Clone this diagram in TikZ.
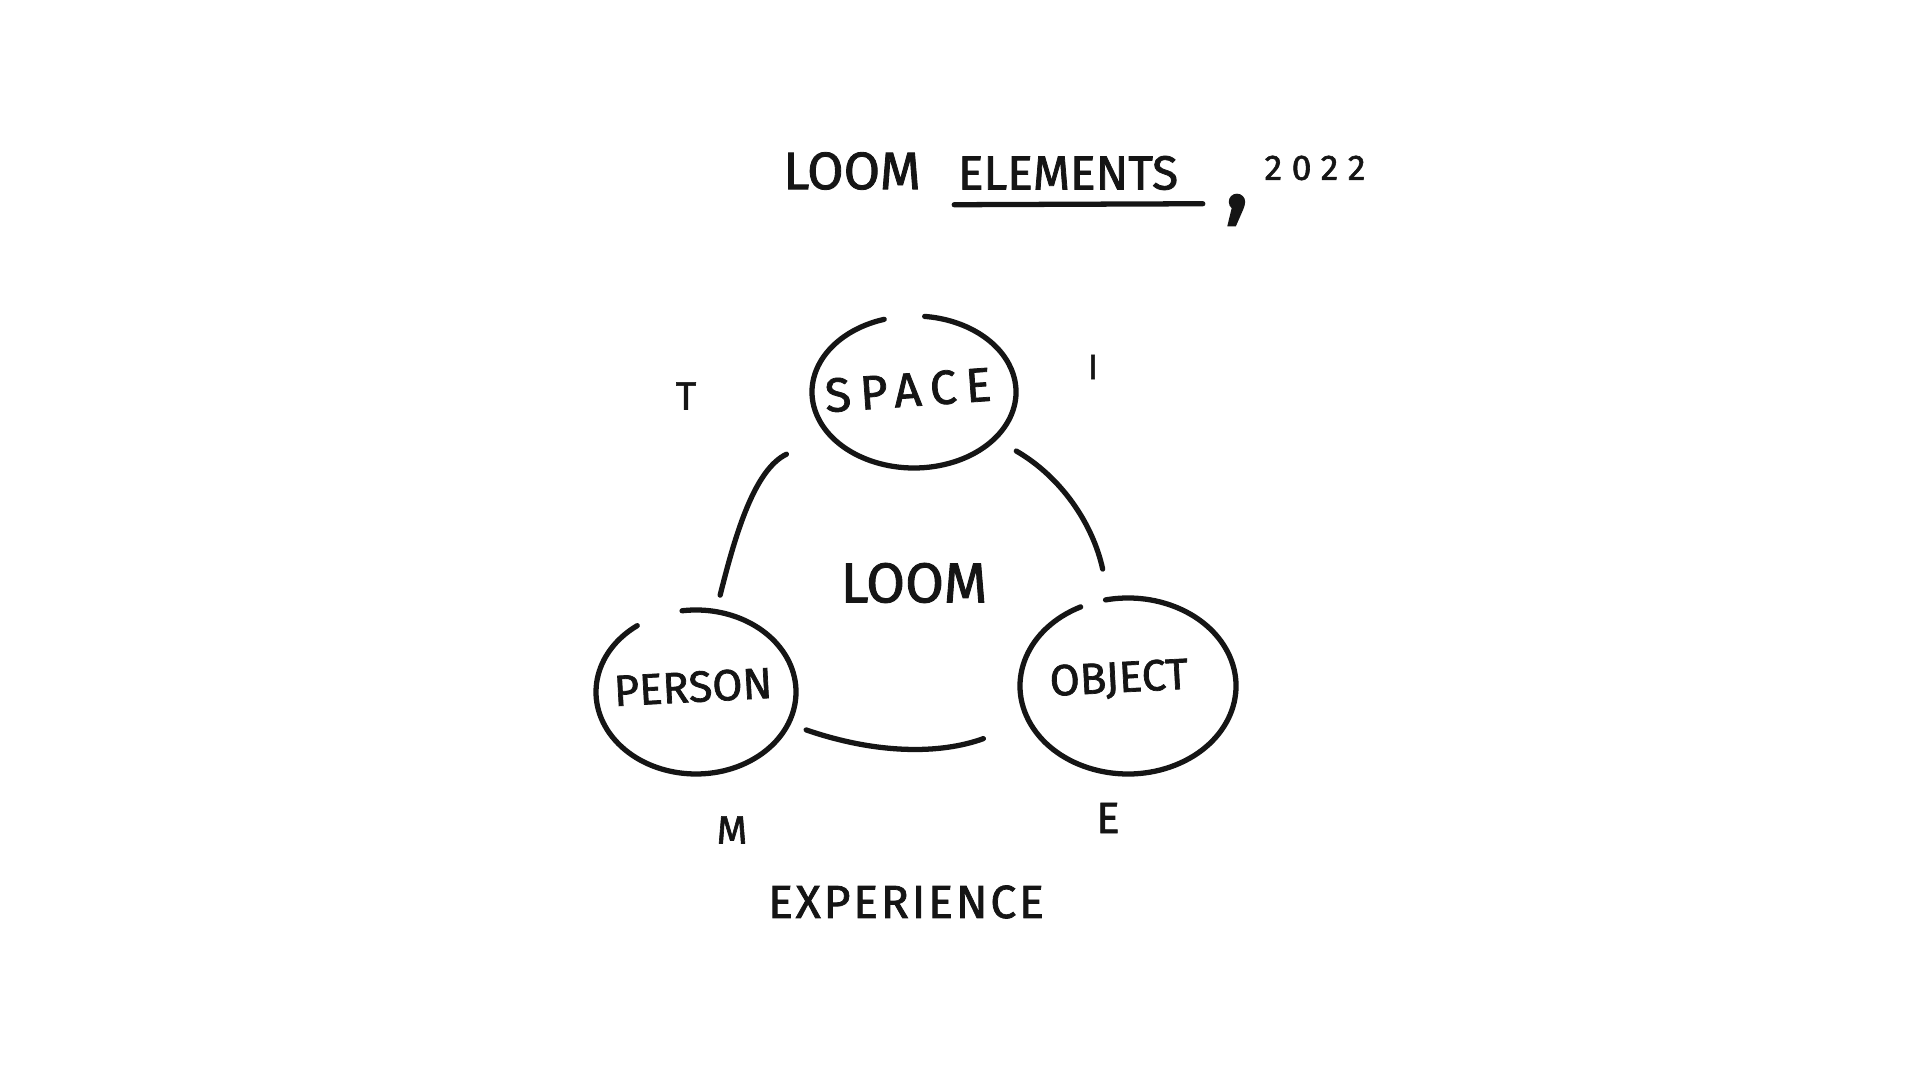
\documentclass[tikz,border=0pt]{standalone}
\usepackage{fontspec}
\usetikzlibrary{shapes.geometric}
\newfontfamily\handfont[FakeBold=1.6]{Fira Sans}
\definecolor{inkblack}{HTML}{151515}
\tikzset{
	ink/.style={draw=inkblack, line width=1.5pt, line cap=round},
	word/.style={text=inkblack, inner sep=0pt},
	blob/.style={ellipse, inner sep=0pt, outer sep=0pt}
}
\begin{document}
\begin{tikzpicture}
	\useasboundingbox (0, 0) rectangle (19.2, 10.8);
	% title
	\node[word, font=\handfont\fontsize{15}{18}\selectfont] (loomtitle) at (8.52, 9.09) {LOOM};
	\node[word, font=\handfont\fontsize{13.6}{16}\selectfont] (elements) at (10.68, 9.07) {ELEMENTS};
	\draw[ink] ([shift={(-0.03, -0.14)}]elements.south west) -- ([shift={(0.24, -0.13)}]elements.south east);
	\node[word, font=\handfont\fontsize{30}{30}\selectfont] (comma) at (12.37, 8.70) {,};
	\node[word, font=\handfont\addfontfeature{LetterSpace=27}\fontsize{10.1}{12}\selectfont] (year) at (13.15, 9.12) {2022};
	% the three elements
	\node[blob, minimum width=2.04cm, minimum height=1.52cm] (space) at (9.14, 6.88) {};
	\node[blob, minimum width=2.00cm, minimum height=1.64cm] (person) at (6.96, 3.88) {};
	\node[blob, minimum width=2.16cm, minimum height=1.76cm] (object) at (11.28, 3.94) {};
	\draw[ink] (space.center) ++(107:1.02 and 0.76) arc[start angle=107, end angle=444, x radius=1.02, y radius=0.76];
	\draw[ink] (person.center) ++(126:1.00 and 0.82) arc[start angle=126, end angle=458, x radius=1.00, y radius=0.82];
	\draw[ink] (object.center) ++(116:1.08 and 0.88) arc[start angle=116, end angle=462, x radius=1.08, y radius=0.88];
	\node[word, rotate=4, font=\handfont\addfontfeature{LetterSpace=19}\fontsize{13.6}{16}\selectfont] (spacetext) at (9.08, 6.90) {SPACE};
	\node[word, rotate=3, font=\handfont\fontsize{12.4}{15}\selectfont] (persontext) at (6.93, 3.93) {PERSON};
	\node[word, rotate=3, font=\handfont\fontsize{12.4}{15}\selectfont] (objecttext) at (11.19, 4.00) {OBJECT};
	% links
	\draw[ink, shorten <=0.47cm, shorten >=0.17cm] (space) to[out=206, in=76] (person);
	\draw[ink, shorten <=0.25cm, shorten >=0.31cm] (space) to[out=-30, in=102.5] (object);
	\draw[ink, shorten <=0.19cm, shorten >=0.49cm] (person) to[out=-19, in=200] (object);
	\node[word, font=\handfont\fontsize{16}{19}\selectfont] (loom) at (9.14, 4.97) {LOOM};
	% letters round the triangle
	\node[word, font=\handfont\fontsize{11.2}{13}\selectfont] (tletter) at (6.86, 6.84) {T};
	\node[word, font=\handfont\fontsize{10}{12}\selectfont] (iletter) at (10.93, 7.13) {I};
	\node[word, font=\handfont\fontsize{11.2}{13}\selectfont] (mletter) at (7.32, 2.50) {M};
	\node[word, font=\handfont\fontsize{12.4}{15}\selectfont] (eletter) at (11.08, 2.62) {E};
	\node[word, font=\handfont\addfontfeature{LetterSpace=6}\fontsize{13.2}{16}\selectfont] (experience) at (9.06, 1.78) {EXPERIENCE};
\end{tikzpicture}
\end{document}
